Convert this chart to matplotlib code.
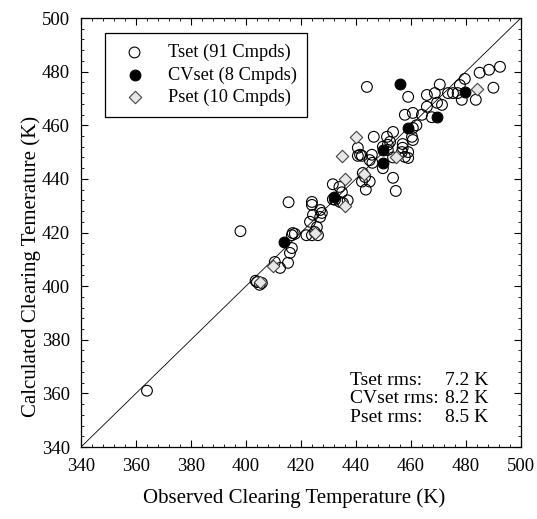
import matplotlib.pyplot as plt
from matplotlib.ticker import MultipleLocator

plt.rcParams['font.family'] = ['Liberation Serif', 'DejaVu Serif']

# Tset (open circles)
tset_obs = [364, 398, 403.5, 404, 405, 405.8, 410.5, 412.4, 415.3, 416, 416.7, 416.7,
            417.8, 415.5, 422, 423.3, 424, 424.4, 425, 424, 426.2, 425.8, 427, 427.6,
            431.6, 432.4, 434.2, 435.3, 431.6, 434.9, 442.5, 443.3, 442.2, 445, 443.6,
            440.7, 442.2, 445.8, 445, 446, 444, 446.5, 449.8, 451.6, 453.5, 456.7, 459,
            457.8, 459, 453.5, 454.5, 457, 460.7, 451.6, 449.8, 452.4, 457, 460.4, 453.5,
            460.7, 462, 457.8, 460.7, 464, 467.6, 465.8, 469.5, 471.3, 478.5, 483.6, 459,
            465.8, 468.7, 473.5, 475.3, 477, 470.5, 477.8, 479.6, 485, 488.4, 492.4, 490,
            440.7, 441.5, 434, 437, 417, 424, 427, 451.3]
tset_calc = [361, 420.5, 402, 401.5, 400.5, 401.2, 409, 406.8, 408.7, 412.4, 414.2, 419,
             419.5, 431.3, 419, 424, 431.4, 426.6, 420.2, 419, 419, 422, 425.8, 427.3,
             432.4, 432.2, 431.4, 431, 438, 435, 442.2, 440.7, 439, 439, 436,
             448.6, 448.6, 449, 447, 446, 474.3, 455.7, 444, 450.8, 448, 450, 450,
             448.2, 447.8, 440.4, 435.5, 453, 454.5, 452.7, 452, 453.8, 451.6, 455.7, 457.5,
             459, 460, 463.9, 464.6, 463.9, 463, 466.9, 468.4, 467.6, 469.5, 469.5, 470.6,
             471.3, 472, 472, 472, 472, 475.2, 475, 477.3, 479.6, 480.7, 481.8, 474,
             451.6, 449, 437, 432, 419.8, 430.3, 428.4, 455.7]

# CVset (filled circles)
cv_obs = [413.8, 432, 449.8, 449.8, 456, 459, 469.5, 479.6]
cv_calc = [416.5, 433.3, 450.8, 446, 475.5, 459, 463, 472.5]

# Pset (diamonds)
p_obs = [409.8, 425, 436, 436, 443, 435, 440, 454.5, 484, 405]
p_calc = [407.5, 419.8, 430, 440, 441.9, 448.4, 455.7, 448.2, 473.6, 401.5]

rms_labels = ['Tset rms:', 'CVset rms:', 'Pset rms:']
rms_values = ['7.2 K', '8.2 K', '8.5 K']

fig = plt.figure(figsize=(5.37, 5.19), dpi=100)
ax = fig.add_axes([0.1508, 0.1387, 0.8192, 0.8266])

ax.plot([340, 500], [340, 500], color='black', lw=0.6, zorder=1)
ax.scatter(tset_obs, tset_calc, s=60, facecolors='none', edgecolors='black',
           linewidths=0.8, label='Tset (91 Cmpds)', zorder=3)
ax.scatter(cv_obs, cv_calc, s=60, facecolors='black', edgecolors='black',
           linewidths=0.8, label='CVset (8 Cmpds)', zorder=4)
ax.scatter(p_obs, p_calc, s=40, marker='D', facecolors='#e8e8e8', edgecolors='#444444',
           linewidths=0.8, label='Pset (10 Cmpds)', zorder=3)

ax.set_xlim(340, 500)
ax.set_ylim(340, 500)
ax.xaxis.set_major_locator(MultipleLocator(20))
ax.yaxis.set_major_locator(MultipleLocator(20))
ax.xaxis.set_minor_locator(MultipleLocator(4))
ax.yaxis.set_minor_locator(MultipleLocator(4))
ax.tick_params(which='both', direction='in', top=True, right=True, labelsize=13.5)
ax.tick_params(which='major', length=5, width=0.8, pad=8)
ax.tick_params(which='minor', length=2.5, width=0.6)
for sp in ax.spines.values():
    sp.set_linewidth(0.9)

ax.set_xlabel('Observed Clearing Temperature (K)', fontsize=15)
ax.set_ylabel('Calculated Clearing Temerature (K)', fontsize=15)
ax.xaxis.set_label_coords(0.484, -0.095)
ax.yaxis.set_label_coords(-0.09, 0.42)

leg = ax.legend(loc='upper left', bbox_to_anchor=(0.055, 0.965), fontsize=13.2,
                fancybox=False, edgecolor='black', framealpha=1, handletextpad=0.8,
                borderpad=0.6, labelspacing=0.28, borderaxespad=0)
leg.get_frame().set_linewidth(0.9)

# rms summary, two columns
for i, (lab, val) in enumerate(zip(rms_labels, rms_values)):
    y = 0.156 - i * 0.044
    ax.text(0.612, y, lab, transform=ax.transAxes, fontsize=14, va='center')
    ax.text(0.827, y, val, transform=ax.transAxes, fontsize=14, va='center')

fig.savefig('out.png', dpi=100)
